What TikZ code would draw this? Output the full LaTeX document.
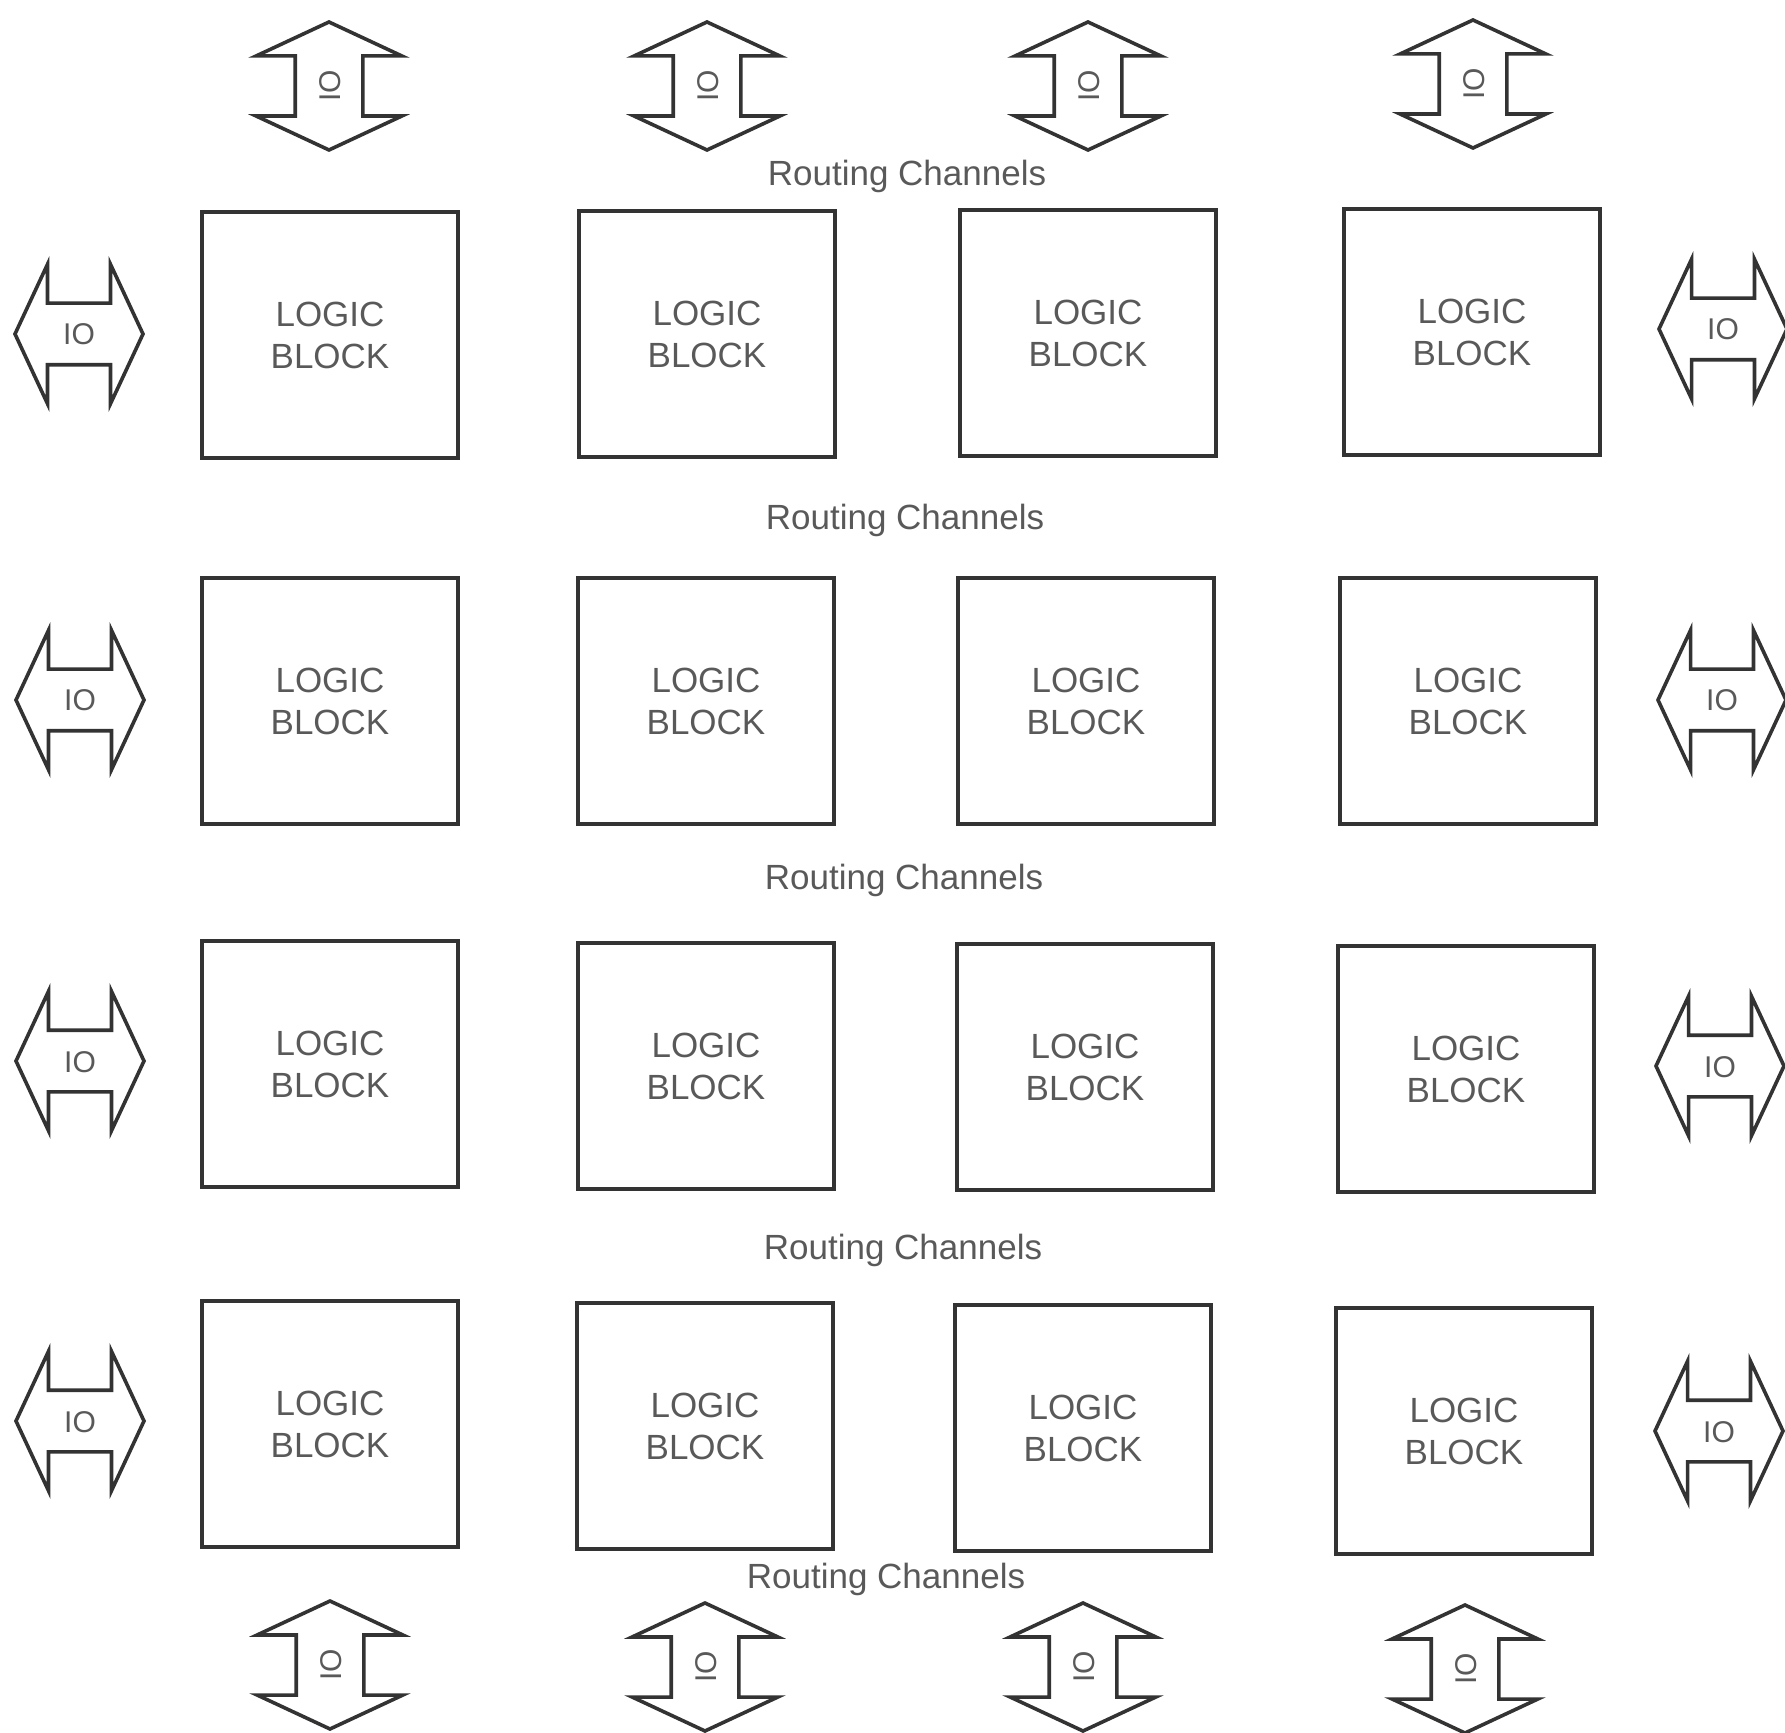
\documentclass[tikz,border=0pt]{standalone}
\usepackage{fontspec}
\setmainfont{Liberation Sans}
\usetikzlibrary{shapes.arrows}

\begin{document}
\begin{tikzpicture}[x=0.5pt,y=-0.5pt,
  block/.style={draw=black!80,line width=2pt,minimum width=128pt,minimum height=123pt,align=center,text=black!65,font=\fontsize{17.5}{21}\selectfont,inner sep=0pt},
  io/.style={double arrow,draw=black!80,line width=1.8pt,text=black!65,font=\fontsize{15}{18}\selectfont,text height=11pt,text depth=0pt,inner xsep=4pt,inner ysep=9pt,minimum height=64pt,double arrow head extend=19.5pt,double arrow tip angle=130},
  chan/.style={text=black!65,font=\fontsize{17.5}{21}\selectfont}]
\useasboundingbox (0,0) rectangle (1785,1733);
% channel labels
\node[chan] (c0) at (907,176) {Routing Channels};
\node[chan] (c1) at (905,520) {Routing Channels};
\node[chan] (c2) at (904,880) {Routing Channels};
\node[chan] (c3) at (903,1250) {Routing Channels};
\node[chan] (c4) at (886,1579) {Routing Channels};
% logic blocks
\node[block] (b11) at (330,335) {LOGIC\\BLOCK};
\node[block] (b12) at (707,334) {LOGIC\\BLOCK};
\node[block] (b13) at (1088,333) {LOGIC\\BLOCK};
\node[block] (b14) at (1472,332) {LOGIC\\BLOCK};
\node[block] (b21) at (330,701) {LOGIC\\BLOCK};
\node[block] (b22) at (706,701) {LOGIC\\BLOCK};
\node[block] (b23) at (1086,701) {LOGIC\\BLOCK};
\node[block] (b24) at (1468,701) {LOGIC\\BLOCK};
\node[block] (b31) at (330,1064) {LOGIC\\BLOCK};
\node[block] (b32) at (706,1066) {LOGIC\\BLOCK};
\node[block] (b33) at (1085,1067) {LOGIC\\BLOCK};
\node[block] (b34) at (1466,1069) {LOGIC\\BLOCK};
\node[block] (b41) at (330,1424) {LOGIC\\BLOCK};
\node[block] (b42) at (705,1426) {LOGIC\\BLOCK};
\node[block] (b43) at (1083,1428) {LOGIC\\BLOCK};
\node[block] (b44) at (1464,1431) {LOGIC\\BLOCK};
% top and bottom IO
\node[io,rotate=90,inner ysep=10.5pt] (t1) at (329,86) {IO};
\node[io,rotate=90,inner ysep=10.5pt] (t2) at (707,86) {IO};
\node[io,rotate=90,inner ysep=10.5pt] (t3) at (1088,86) {IO};
\node[io,rotate=90,inner ysep=10.5pt] (t4) at (1473,84) {IO};
\node[io,rotate=90,inner ysep=10.5pt] (u1) at (330,1665) {IO};
\node[io,rotate=90,inner ysep=10.5pt] (u2) at (705,1667) {IO};
\node[io,rotate=90,inner ysep=10.5pt] (u3) at (1083,1667) {IO};
\node[io,rotate=90,inner ysep=10.5pt] (u4) at (1465,1669) {IO};
% left and right IO
\node[io] (l1) at (79,334) {IO};
\node[io] (l2) at (80,700) {IO};
\node[io] (l3) at (80,1061) {IO};
\node[io] (l4) at (80,1421) {IO};
\node[io] (r1) at (1723,329) {IO};
\node[io] (r2) at (1722,700) {IO};
\node[io] (r3) at (1720,1066) {IO};
\node[io] (r4) at (1719,1431) {IO};
\end{tikzpicture}
\end{document}
